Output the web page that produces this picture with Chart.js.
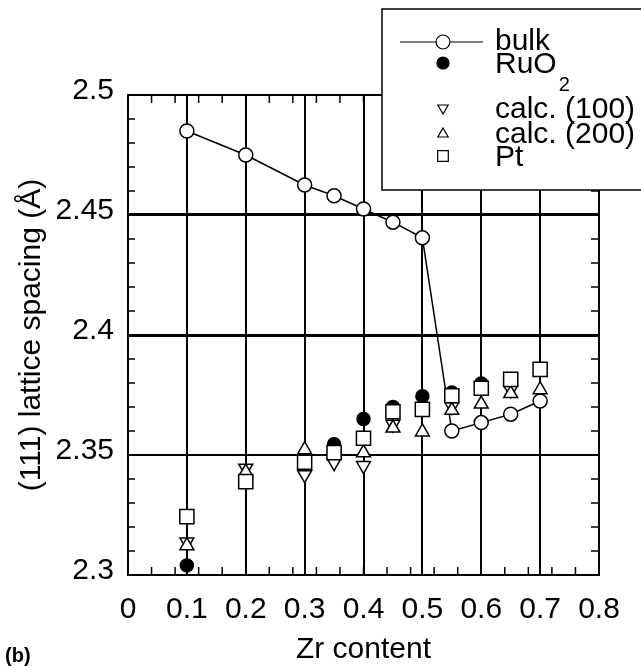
<!DOCTYPE html>
<html>
<head>
<meta charset="utf-8">
<script src="https://cdn.jsdelivr.net/npm/chart.js@4.4.0/dist/chart.umd.min.js"></script>
<style>
  html, body { margin: 0; padding: 0; background: #fff; }
</style>
</head>
<body>
<canvas id="chart" width="641" height="666"></canvas>
<script>
// values
const zrContent = [0.1, 0.2, 0.3, 0.35, 0.4, 0.45, 0.5, 0.55, 0.6, 0.65, 0.7];
const bulk    = [2.485, 2.475, 2.4625, 2.458, 2.4525, 2.447, 2.4405, 2.360, 2.3635, 2.367, 2.3725];
const ruo2    = [2.304, null, null, 2.3545, 2.365, 2.370, 2.3745, 2.376, 2.3798, null, null];
const calc100 = [2.3138, 2.3445, 2.3418, 2.3468, 2.3456, 2.3628, null, 2.3702, null, 2.3772, null];
const calc200 = [2.3122, 2.3429, 2.3522, 2.3527, 2.3509, 2.3612, 2.3596, 2.3686, 2.3712, 2.3756, 2.3772];
const pt      = [2.3243, 2.3389, 2.347, 2.351, 2.357, 2.368, 2.369, 2.3747, 2.3778, 2.3815, 2.3857];

const xTickLabels = ["0", "0.1", "0.2", "0.3", "0.4", "0.5", "0.6", "0.7", "0.8"];
const yTickLabels = ["2.3", "2.35", "2.4", "2.45", "2.5"];

const FONT = "'Liberation Sans', Arial, Helvetica, sans-serif";

function toPoints(values) {
  return zrContent
    .map((x, i) => ({ x: x, y: values[i] }))
    .filter((p) => p.y !== null);
}

// inward minor/major ticks on all four sides
const frameTicks = {
  id: "frameTicks",
  beforeDatasetsDraw(chart) {
    const { ctx, chartArea: a, scales: { x, y } } = chart;
    ctx.save();
    ctx.strokeStyle = "#000";
    for (let k = 0; k <= 20; k++) {
      const py = y.getPixelForValue(2.3 + k * 0.01);
      ctx.lineWidth = k % 5 === 0 ? 2 : 1.5;
      ctx.beginPath();
      ctx.moveTo(a.left, py); ctx.lineTo(a.left + 7, py);
      ctx.moveTo(a.right, py); ctx.lineTo(a.right - 8, py);
      ctx.stroke();
    }
    for (let k = 0; k <= 40; k += 2) {
      const px = x.getPixelForValue(k / 50);
      ctx.lineWidth = 1.5;
      ctx.beginPath();
      ctx.moveTo(px, a.top); ctx.lineTo(px, a.top + 8);
      ctx.moveTo(px, a.bottom); ctx.lineTo(px, a.bottom - 8);
      ctx.stroke();
    }
    ctx.restore();
  }
};

// boxed legend in the upper right, plus the panel tag
const boxLegend = {
  id: "boxLegend",
  afterDraw(chart) {
    const ctx = chart.ctx;
    const drawPoint = Chart.helpers.drawPoint;
    ctx.save();
    ctx.fillStyle = "#fff";
    ctx.strokeStyle = "#000";
    ctx.lineWidth = 1.5;
    ctx.fillRect(382, 9, 270, 181);
    ctx.strokeRect(382, 9, 270, 181);

    const sx = 443, tx = 495;
    ctx.lineWidth = 1.2;
    ctx.beginPath();
    ctx.moveTo(400, 42); ctx.lineTo(483, 42);
    ctx.stroke();

    const symbols = [
      { y: 42, style: "circle", r: 7, fill: "#fff", rot: 0 },
      { y: 63, style: "circle", r: 6, fill: "#000", rot: 0 },
      { y: 108, style: "triangle", r: 6, fill: "#fff", rot: 180 },
      { y: 134, style: "triangle", r: 6, fill: "#fff", rot: 0 },
      { y: 156, style: "rect", r: 7.5, fill: "#fff", rot: 0 }
    ];
    symbols.forEach((s) => {
      ctx.fillStyle = s.fill;
      ctx.strokeStyle = "#000";
      ctx.lineWidth = 1.2;
      drawPoint(ctx, { pointStyle: s.style, radius: s.r, rotation: s.rot, borderWidth: 1.2 }, sx, s.y);
    });

    ctx.fillStyle = "#000";
    ctx.textAlign = "left";
    ctx.textBaseline = "alphabetic";
    ctx.font = "30px " + FONT;
    ctx.fillText("bulk", tx, 50);
    ctx.fillText("RuO", tx, 73);
    const w = ctx.measureText("RuO").width;
    ctx.fillText("calc. (100)", tx, 118);
    ctx.fillText("calc. (200)", tx, 143);
    ctx.fillText("Pt", tx, 166);
    ctx.font = "20px " + FONT;
    ctx.fillText("2", tx + w + 2, 91);

    ctx.font = "bold 20px " + FONT;
    ctx.textBaseline = "middle";
    ctx.fillText("(b)", 5, 656);
    ctx.restore();
  }
};

const markerBase = {
  showLine: false,
  borderColor: "#000",
  pointBorderColor: "#000",
  pointBackgroundColor: "#fff",
  pointBorderWidth: 1.5
};

new Chart(document.getElementById("chart"), {
  type: "scatter",
  data: {
    datasets: [
      {
        ...markerBase,
        label: "Pt",
        data: toPoints(pt),
        pointStyle: "rect",
        pointRadius: 10,
        order: 0
      },
      {
        ...markerBase,
        label: "RuO2",
        data: toPoints(ruo2),
        pointStyle: "circle",
        pointRadius: 6.5,
        pointBackgroundColor: "#000",
        order: 1
      },
      {
        ...markerBase,
        label: "calc. (200)",
        data: toPoints(calc200),
        pointStyle: "triangle",
        pointRadius: 8,
        order: 2
      },
      {
        ...markerBase,
        label: "calc. (100)",
        data: toPoints(calc100),
        pointStyle: "triangle",
        pointRotation: 180,
        pointRadius: 8,
        order: 3
      },
      {
        ...markerBase,
        label: "bulk",
        data: toPoints(bulk),
        showLine: true,
        borderWidth: 1.5,
        pointStyle: "circle",
        pointRadius: 7,
        order: 4
      }
    ]
  },
  options: {
    responsive: false,
    devicePixelRatio: 1,
    animation: false,
    layout: { padding: { top: 95, right: 42, left: 0, bottom: 0 } },
    plugins: { legend: { display: false }, tooltip: { enabled: false } },
    scales: {
      x: {
        type: "linear",
        min: 0,
        max: 0.8,
        afterFit: (scale) => { scale.height = 91; },
        border: { display: true, color: "#000", width: 2 },
        grid: { color: "#000", lineWidth: 2, drawTicks: false },
        ticks: {
          stepSize: 0.1,
          padding: 17,
          color: "#000",
          font: { family: FONT, size: 30 },
          maxRotation: 0,
          callback: (v) => xTickLabels[Math.round(v * 10)]
        },
        title: {
          display: true,
          text: "Zr content",
          color: "#000",
          font: { family: FONT, size: 30, lineHeight: 1 },
          padding: { top: 0, bottom: 1 }
        }
      },
      y: {
        min: 2.3,
        max: 2.5,
        afterFit: (scale) => { scale.width = 128; },
        border: { display: true, color: "#000", width: 2 },
        grid: {
          color: "#000",
          drawTicks: false,
          lineWidth: (c) => {
            const k = Math.round((c.tick.value - 2.3) / 0.05);
            return k === 2 || k === 3 ? 3 : 2;
          }
        },
        ticks: {
          stepSize: 0.05,
          padding: 14,
          labelOffset: -4,
          color: "#000",
          font: { family: FONT, size: 30 },
          callback: (v) => yTickLabels[Math.round((v - 2.3) / 0.05)]
        },
        title: {
          display: true,
          text: "(111) lattice spacing (Å)",
          color: "#000",
          font: { family: FONT, size: 30, lineHeight: 1.2 },
          padding: { top: 14, bottom: 0 }
        }
      }
    }
  },
  plugins: [frameTicks, boxLegend]
});
</script>
</body>
</html>
